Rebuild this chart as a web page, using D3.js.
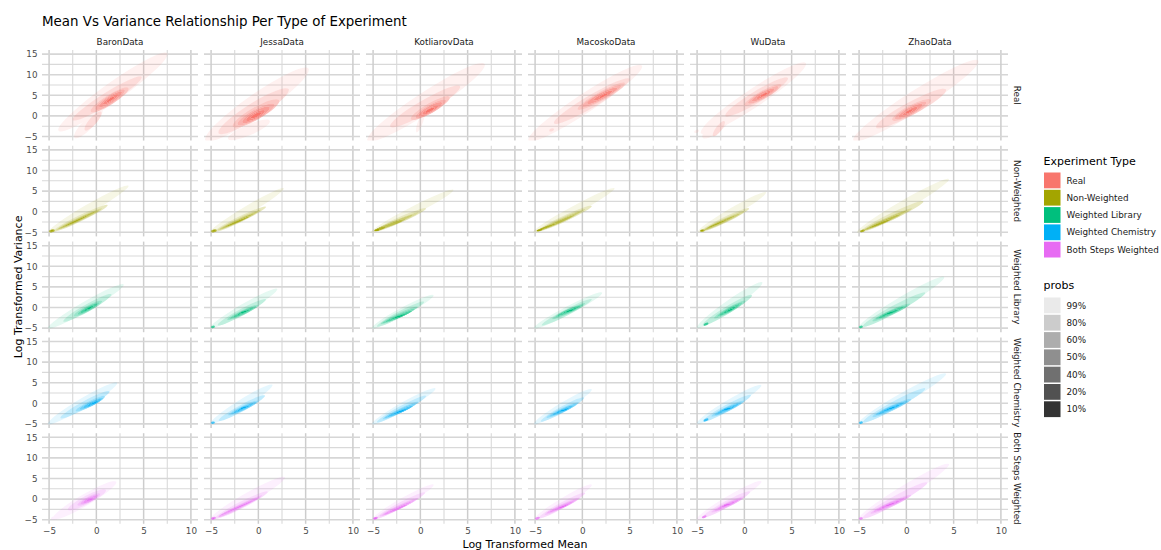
<!DOCTYPE html>
<html>
<head>
<meta charset="utf-8">
<script src="https://cdn.jsdelivr.net/npm/d3@7"></script>
<style>
  body { margin: 0; background: #ffffff; }
  svg { display: block; }
  text { font-family: "DejaVu Sans", sans-serif; }
</style>
</head>
<body>
<svg id="chart" width="1161" height="550"></svg>
<script>
// ---------------------------------------------------------------------------
// Data
// ---------------------------------------------------------------------------
const datasets = ["BaronData", "JessaData", "KotliarovData", "MacoskoData", "WuData", "ZhaoData"];
const experimentTypes = ["Real", "Non-Weighted", "Weighted Library", "Weighted Chemistry", "Both Steps Weighted"];
const typeColors = ["#F8766D", "#A3A500", "#00BF7D", "#00B0F6", "#E76BF3"];
const probLabels = ["99%", "80%", "60%", "50%", "40%", "20%", "10%"];
const probAlpha = [0.1, 0.25, 0.4, 0.55, 0.7, 0.85, 1];
const xTicks = [-5, 0, 5, 10];
const yTicks = [-5, 0, 5, 10, 15];
const xLimits = [-5, 10];
const yLimits = [-5, 15];

// Highest-density regions, one list per dataset, seven nested levels each
// (99% ... 10%). Every region is a set of ellipses given as
// [mean1, variance1, mean2, variance2, halfWidth] in log-transformed units:
// the ellipse tips sit at the two (mean, variance) points.
const realRegions = [
  [ // Baron
    [[-4, -3.6, 7.5, 15.2, 2.3], [-2.3, -5.3, 0.6, 1.5, 1.3]],
    [[-2.5, -1, 4.8, 9.5, 1.4], [-1.2, -3.5, 0.5, 1, 0.9]],
    [[-0.6, 1, 3.4, 6.8, 1.2]],
    [[-0.1, 1.6, 3, 6.3, 1.0]],
    [[0.3, 2.2, 2.7, 5.8, 0.8]],
    [[0.7, 2.8, 2.3, 5.2, 0.55]],
    [[1.1, 3.4, 1.9, 4.6, 0.35]]
  ],
  [ // Jessa
    [[-5.6, -6, 5.3, 11.5, 2.6], [-3.2, -5.6, 1.2, -1.2, 1.3]],
    [[-4.2, -4.2, 3.2, 6.5, 1.9]],
    [[-2.7, -2.6, 2.2, 3.8, 1.5]],
    [[-2.2, -2.1, 1.7, 2.8, 1.2]],
    [[-1.7, -1.6, 1.2, 2.1, 1.0]],
    [[-1.3, -1.1, 0.7, 1.3, 0.7]],
    [[-0.8, -0.5, 0.3, 0.8, 0.45]]
  ],
  [ // Kotliarov
    [[-5.6, -6, 6.8, 12.6, 2.5], [-0.4, -4, 0.4, 1, 0.6]],
    [[-3.2, -2.6, 4.2, 7.2, 1.6]],
    [[-1, -0.8, 3.1, 4.6, 1.2]],
    [[-0.5, -0.4, 2.7, 3.8, 1.0]],
    [[-0.2, 0, 2.3, 3.2, 0.8]],
    [[0.2, 0.4, 1.9, 2.5, 0.55]],
    [[0.5, 0.8, 1.5, 2, 0.35]]
  ],
  [ // Macosko
    [[-5.7, -6, 6.3, 12.2, 2.3]],
    [[-3, -1.8, 5, 9, 1.5], [-3.5, -3.6, -3.0, -3.2, 0.35]],
    [[-0.5, 1.6, 4.5, 8, 1.1]],
    [[0, 2.3, 4.1, 7.4, 0.9]],
    [[0.5, 3, 3.7, 6.8, 0.75]],
    [[1.2, 3.8, 3.2, 6.1, 0.5]],
    [[1.8, 4.4, 2.7, 5.5, 0.3]]
  ],
  [ // Wu
    [[-4.6, -4.2, 6.5, 12.8, 2.2], [-4.4, -5.3, -1.4, 0.3, 1.4], [-5.3, -4, -4.8, -3.5, 0.35]],
    [[-2, 0, 4.6, 9.2, 1.4], [-3.3, -4.9, -2.1, -1.3, 0.7]],
    [[0, 2.6, 3.9, 7.6, 1.0]],
    [[0.4, 3.1, 3.6, 7.1, 0.85]],
    [[0.8, 3.6, 3.2, 6.6, 0.7]],
    [[1.3, 4.2, 2.8, 6, 0.45]],
    [[1.7, 4.7, 2.5, 5.6, 0.3]]
  ],
  [ // Zhao
    [[-5.6, -6, 7.6, 13.4, 2.4]],
    [[-3.2, -2.8, 4.2, 6.4, 1.6]],
    [[-1.5, -1, 2.6, 3.9, 1.2]],
    [[-1.2, -0.7, 2.1, 3.3, 1.0]],
    [[-0.8, -0.3, 1.7, 2.8, 0.8]],
    [[-0.4, 0.2, 1.2, 2.1, 0.5]],
    [[-0.1, 0.6, 0.7, 1.6, 0.3]]
  ]
];

const nonWeightedRegions = [
  [ // Baron
    [[-5.1, -5, 3.4, 6.3, 1.1]],
    [[-4.6, -4.8, 1.2, 1.6, 0.75]],
    [[-4.3, -4.5, 0.6, 0.8, 0.5]],
    [[-4.1, -4.3, 0.3, 0.4, 0.38]],
    [[-3.8, -4, -0.1, 0, 0.28], [-5, -4.8, -4.4, -4.5, 0.35]],
    [[-3.4, -3.6, -0.8, -0.8, 0.2], [-4.95, -4.75, -4.45, -4.55, 0.28]],
    [[-4.9, -4.72, -4.55, -4.6, 0.2]]
  ],
  [ // Jessa
    [[-5.1, -5, 2.7, 5.7, 1.0]],
    [[-4.6, -4.8, 0.8, 1.2, 0.7]],
    [[-4.3, -4.5, 0.3, 0.5, 0.48]],
    [[-4.1, -4.3, 0, 0.1, 0.36]],
    [[-3.9, -4.1, -0.4, -0.4, 0.27], [-5, -4.8, -4.4, -4.5, 0.35]],
    [[-3.6, -3.8, -1, -1.2, 0.2], [-4.95, -4.75, -4.45, -4.55, 0.28]],
    [[-4.9, -4.72, -4.55, -4.6, 0.2]]
  ],
  [ // Kotliarov
    [[-5.2, -5, 3.5, 5.3, 1.0]],
    [[-4.9, -4.8, 0.6, 0.8, 0.7]],
    [[-4.8, -4.7, -0.2, -0.2, 0.5]],
    [[-4.8, -4.6, -0.8, -0.8, 0.4]],
    [[-4.8, -4.5, -1.6, -1.8, 0.33]],
    [[-4.9, -4.6, -3.6, -3.6, 0.3]],
    [[-4.85, -4.55, -4.3, -4.3, 0.25]]
  ],
  [ // Macosko
    [[-5.2, -5, 3.4, 5.7, 1.0]],
    [[-4.8, -4.8, 1, 1.4, 0.72]],
    [[-4.6, -4.6, 0.3, 0.6, 0.5]],
    [[-4.5, -4.5, -0.2, 0, 0.38]],
    [[-4.4, -4.4, -0.8, -0.8, 0.3]],
    [[-4.8, -4.6, -2.8, -2.9, 0.25]],
    [[-4.85, -4.6, -4.2, -4.3, 0.22]]
  ],
  [ // Wu
    [[-4.9, -4.9, 2.3, 4.7, 1.0]],
    [[-4.6, -4.8, 0.5, 0.8, 0.7]],
    [[-4.4, -4.6, 0, 0.1, 0.5]],
    [[-4.3, -4.5, -0.4, -0.4, 0.38]],
    [[-4.2, -4.4, -1, -1, 0.28]],
    [[-3.9, -4, -1.8, -1.9, 0.2], [-4.7, -4.7, -4.2, -4.5, 0.27]],
    [[-4.65, -4.65, -4.3, -4.5, 0.2]]
  ],
  [ // Zhao
    [[-5.2, -5, 4.5, 7.9, 1.2]],
    [[-4.8, -4.8, 1.8, 2.5, 0.85]],
    [[-4.6, -4.6, 0.6, 0.8, 0.55]],
    [[-4.5, -4.5, 0, 0.2, 0.42]],
    [[-4.4, -4.4, -0.6, -0.6, 0.32]],
    [[-4, -4, -1.6, -1.8, 0.22], [-4.9, -4.8, -4.4, -4.5, 0.28]],
    [[-4.85, -4.75, -4.5, -4.6, 0.2]]
  ]
];

const weightedLibraryRegions = [
  [ // Baron
    [[-5.1, -5, 2.9, 5.6, 1.2]],
    [[-3.5, -3.4, 1.6, 3.2, 0.9]],
    [[-2.4, -2.1, 0.6, 1.6, 0.7]],
    [[-2, -1.7, 0.3, 1.2, 0.55]],
    [[-1.7, -1.3, 0.1, 0.9, 0.45]],
    [[-1.3, -0.8, -0.3, 0.4, 0.32]],
    [[-1, -0.4, -0.5, 0.1, 0.22]]
  ],
  [ // Jessa
    [[-5.1, -5, 2, 4.5, 1.1]],
    [[-4.3, -4.3, 0.8, 2, 0.8]],
    [[-3.3, -3, 0, 0.6, 0.6]],
    [[-3, -2.7, -0.2, 0.3, 0.48]],
    [[-2.7, -2.4, -0.5, 0, 0.4], [-5, -4.8, -4.6, -4.6, 0.3]],
    [[-2.2, -1.8, -0.9, -0.5, 0.28]],
    [[-1.9, -1.4, -1.2, -0.8, 0.2]]
  ],
  [ // Kotliarov
    [[-5.1, -5, 1.4, 3, 1.0]],
    [[-4.6, -4.6, 0.4, 1.4, 0.75]],
    [[-4.2, -4, -0.3, 0.2, 0.55]],
    [[-4, -3.8, -0.6, -0.3, 0.45]],
    [[-3.7, -3.5, -0.9, -0.8, 0.37]],
    [[-3.2, -3, -1.4, -1.4, 0.27]],
    [[-2.8, -2.6, -1.8, -1.8, 0.2]]
  ],
  [ // Macosko
    [[-5.1, -5, 2.1, 3.6, 1.0]],
    [[-4.3, -4.3, 1, 2, 0.75]],
    [[-3.2, -2.8, 0.3, 1, 0.57]],
    [[-2.9, -2.4, 0.1, 0.7, 0.46]],
    [[-2.6, -2, -0.2, 0.4, 0.38]],
    [[-2.1, -1.5, -0.6, -0.1, 0.27]],
    [[-1.8, -1.2, -0.9, -0.4, 0.2]]
  ],
  [ // Wu
    [[-5, -4.9, 1.9, 6.1, 1.2]],
    [[-4.4, -4.3, 0.8, 3, 0.9]],
    [[-3.2, -2.6, 0.1, 1.6, 0.65]],
    [[-2.9, -2.2, -0.2, 1.2, 0.52]],
    [[-2.6, -1.9, -0.5, 0.8, 0.42], [-4.3, -4.3, -3.8, -3.8, 0.3]],
    [[-2.2, -1.4, -0.9, 0.2, 0.3]],
    [[-1.9, -1, -1.2, -0.3, 0.2]]
  ],
  [ // Zhao
    [[-5.1, -5, 4, 7.4, 1.3]],
    [[-4.6, -4.6, 2, 3.6, 0.95]],
    [[-3.6, -3.3, 0.4, 0.9, 0.65]],
    [[-3.3, -2.9, 0.1, 0.5, 0.52]],
    [[-3, -2.6, -0.3, 0.1, 0.43], [-5, -4.8, -4.6, -4.6, 0.3]],
    [[-2.5, -2, -0.8, -0.5, 0.3]],
    [[-2.1, -1.6, -1.2, -0.9, 0.2]]
  ]
];

const weightedChemistryRegions = [
  [ // Baron
    [[-5.1, -5, 2.2, 5, 1.2]],
    [[-3.8, -3.6, 1.4, 2.9, 0.9]],
    [[-2.2, -1.9, 0.9, 1.7, 0.7]],
    [[-1.8, -1.5, 0.7, 1.3, 0.56]],
    [[-1.4, -1.1, 0.5, 1, 0.46]],
    [[-0.9, -0.6, 0.2, 0.6, 0.32]],
    [[-0.6, -0.3, 0, 0.3, 0.22]]
  ],
  [ // Jessa
    [[-5.1, -5, 1.5, 4.5, 1.1]],
    [[-4.2, -4.2, 0.7, 1.9, 0.8]],
    [[-3.2, -2.9, 0, 0.6, 0.6]],
    [[-2.9, -2.6, -0.2, 0.3, 0.48]],
    [[-2.6, -2.3, -0.5, 0, 0.4], [-5, -4.8, -4.6, -4.6, 0.28]],
    [[-2.2, -1.8, -0.9, -0.5, 0.28]],
    [[-1.9, -1.4, -1.2, -0.8, 0.2]]
  ],
  [ // Kotliarov
    [[-5.1, -5, 1.6, 3.6, 1.0]],
    [[-4.6, -4.6, 0.6, 1.8, 0.75]],
    [[-4, -3.9, -0.2, 0.4, 0.55]],
    [[-3.8, -3.6, -0.5, -0.1, 0.45]],
    [[-3.5, -3.3, -0.8, -0.6, 0.37]],
    [[-3, -2.8, -1.3, -1.2, 0.27]],
    [[-2.6, -2.4, -1.7, -1.6, 0.2]]
  ],
  [ // Macosko
    [[-5.1, -5, 1, 3.4, 1.0]],
    [[-4.4, -4.4, 0.2, 1.4, 0.75]],
    [[-3.8, -3.5, -0.4, 0.2, 0.55]],
    [[-3.5, -3.2, -0.6, -0.1, 0.45]],
    [[-3.2, -2.9, -0.9, -0.5, 0.37]],
    [[-2.8, -2.4, -1.3, -1, 0.27]],
    [[-2.4, -2, -1.6, -1.4, 0.2]]
  ],
  [ // Wu
    [[-5, -4.9, 1.8, 4.4, 1.1]],
    [[-4.4, -4.4, 0.7, 2, 0.82]],
    [[-3.5, -3.2, 0, 0.6, 0.6]],
    [[-3.2, -2.9, -0.3, 0.2, 0.48]],
    [[-2.9, -2.5, -0.6, -0.2, 0.4], [-4.3, -4.3, -3.8, -3.8, 0.3]],
    [[-2.5, -2, -1, -0.7, 0.28]],
    [[-2.2, -1.6, -1.3, -1.1, 0.2]]
  ],
  [ // Zhao
    [[-5.1, -5, 4.2, 7.2, 1.3]],
    [[-4.6, -4.6, 2, 3.6, 0.95]],
    [[-3.6, -3.3, 0.5, 1, 0.65]],
    [[-3.3, -2.9, 0.2, 0.6, 0.52]],
    [[-3, -2.6, -0.2, 0.2, 0.43], [-5, -4.8, -4.6, -4.6, 0.3]],
    [[-2.5, -2, -0.7, -0.4, 0.3]],
    [[-2.1, -1.6, -1.1, -0.8, 0.2]]
  ]
];

const bothStepsRegions = [
  [ // Baron
    [[-4.6, -4.8, 2.1, 4.2, 1.4], [-4.8, -4.8, -4.3, -4.5, 0.35]],
    [[-3, -2.6, 1, 2.2, 1.0]],
    [[-2, -1.5, 0.4, 1.3, 0.7]],
    [[-1.7, -1.2, 0.2, 1, 0.58]],
    [[-1.4, -0.9, 0, 0.7, 0.47]],
    [[-1, -0.5, -0.3, 0.3, 0.33]],
    [[-0.8, -0.3, -0.4, 0.1, 0.22]]
  ],
  [ // Jessa
    [[-5.1, -5, 2.8, 5.3, 1.3]],
    [[-4.6, -4.7, 1, 1.8, 0.8]],
    [[-4.3, -4.4, 0.4, 0.9, 0.5]],
    [[-4.2, -4.3, 0.2, 0.6, 0.4]],
    [[-4.1, -4.1, 0, 0.3, 0.3], [-5, -4.8, -4.5, -4.5, 0.33]],
    [[-3.5, -3.4, -0.5, -0.3, 0.2], [-4.95, -4.75, -4.55, -4.55, 0.26]],
    [[-4.9, -4.72, -4.6, -4.6, 0.2]]
  ],
  [ // Kotliarov
    [[-5.1, -5, 1.4, 3.5, 1.0]],
    [[-4.7, -4.7, 0.5, 1.6, 0.72]],
    [[-4.3, -4.2, -0.2, 0.3, 0.5]],
    [[-4.1, -4, -0.5, -0.1, 0.4]],
    [[-3.9, -3.8, -0.9, -0.6, 0.32], [-5, -4.8, -4.5, -4.5, 0.3]],
    [[-3.4, -3.3, -1.4, -1.3, 0.22]],
    [[-4.9, -4.7, -4.6, -4.6, 0.2]]
  ],
  [ // Macosko
    [[-5.1, -5, 1, 3.5, 1.0]],
    [[-4.6, -4.6, 0.3, 1.5, 0.72]],
    [[-4, -3.8, -0.3, 0.3, 0.52]],
    [[-3.8, -3.5, -0.6, -0.1, 0.42]],
    [[-3.5, -3.2, -0.9, -0.5, 0.34], [-5, -4.8, -4.5, -4.5, 0.3]],
    [[-3, -2.7, -1.3, -1, 0.25]],
    [[-2.6, -2.3, -1.6, -1.4, 0.18]]
  ],
  [ // Wu
    [[-5, -4.9, 1.8, 4.3, 1.1]],
    [[-4.4, -4.4, 0.6, 1.8, 0.8]],
    [[-3.5, -3.2, 0, 0.6, 0.58]],
    [[-3.2, -2.9, -0.3, 0.2, 0.47]],
    [[-2.9, -2.5, -0.6, -0.2, 0.38], [-4.5, -4.5, -4, -4.1, 0.3]],
    [[-2.5, -2, -1, -0.7, 0.27]],
    [[-2.2, -1.6, -1.3, -1.1, 0.2]]
  ],
  [ // Zhao
    [[-5.1, -5, 4.5, 8.5, 1.4]],
    [[-4.6, -4.6, 2.2, 4, 1.0]],
    [[-3.8, -3.5, 0.5, 1, 0.65]],
    [[-3.5, -3.1, 0.2, 0.6, 0.52]],
    [[-3.2, -2.8, -0.2, 0.2, 0.43], [-5, -4.8, -4.6, -4.6, 0.3]],
    [[-2.7, -2.2, -0.7, -0.4, 0.3]],
    [[-2.3, -1.8, -1.1, -0.8, 0.2]]
  ]
];

const regionsByType = [realRegions, nonWeightedRegions, weightedLibraryRegions,
                       weightedChemistryRegions, bothStepsRegions];

// ---------------------------------------------------------------------------
// Layout
// ---------------------------------------------------------------------------
const svg = d3.select("#chart");
const panel = { left: 42, top: 50, width: 156, height: 90.6, colStep: 162, rowStep: 95.8 };

// ggplot-style 5% expansion of the continuous limits
const expand = (lim) => { const d = (lim[1] - lim[0]) * 0.05; return [lim[0] - d, lim[1] + d]; };
const x = d3.scaleLinear().domain(expand(xLimits)).range([0, panel.width]);
const y = d3.scaleLinear().domain(expand(yLimits)).range([panel.height, 0]);

const midpoints = (t) => t.slice(1).map((v, i) => (v + t[i]) / 2);
const xMinor = midpoints(xTicks);
const yMinor = midpoints(yTicks);

const defs = svg.append("defs");
defs.append("clipPath").attr("id", "panel-clip")
  .append("rect").attr("width", panel.width).attr("height", panel.height);

// Title
svg.append("text")
  .attr("x", 42).attr("y", 25.5)
  .attr("font-size", 13.4).attr("fill", "#000")
  .text("Mean Vs Variance Relationship Per Type of Experiment");

// Places an ellipse whose tips are the two (mean, variance) points
function placeEllipse(sel) {
  sel.each(function (d) {
    const x1 = x(d[0]), y1 = y(d[1]), x2 = x(d[2]), y2 = y(d[3]);
    const cx = (x1 + x2) / 2, cy = (y1 + y2) / 2;
    const rx = Math.max(Math.hypot(x2 - x1, y2 - y1) / 2, 0.6);
    const ry = Math.max(Math.abs(y(0) - y(d[4])), 0.6);
    const ang = Math.atan2(y2 - y1, x2 - x1) * 180 / Math.PI;
    d3.select(this)
      .attr("cx", cx).attr("cy", cy).attr("rx", rx).attr("ry", ry)
      .attr("transform", `rotate(${ang},${cx},${cy})`);
  });
}

experimentTypes.forEach((type, r) => {
  datasets.forEach((ds, c) => {
    const px = panel.left + c * panel.colStep;
    const py = panel.top + r * panel.rowStep;
    const g = svg.append("g").attr("transform", `translate(${px},${py})`);

    // grid
    const grid = g.append("g");
    grid.selectAll(".gxm").data(xMinor).join("line")
      .attr("x1", d => x(d)).attr("x2", d => x(d)).attr("y1", 0).attr("y2", panel.height)
      .attr("stroke", "#d9d9d9").attr("stroke-width", 1.1);
    grid.selectAll(".gym").data(yMinor).join("line")
      .attr("y1", d => y(d)).attr("y2", d => y(d)).attr("x1", 0).attr("x2", panel.width)
      .attr("stroke", "#d9d9d9").attr("stroke-width", 1.1);
    grid.selectAll(".gx").data(xTicks).join("line")
      .attr("x1", d => x(d)).attr("x2", d => x(d)).attr("y1", 0).attr("y2", panel.height)
      .attr("stroke", "#cdcdcd").attr("stroke-width", 1.5);
    grid.selectAll(".gy").data(yTicks).join("line")
      .attr("y1", d => y(d)).attr("y2", d => y(d)).attr("x1", 0).attr("x2", panel.width)
      .attr("stroke", "#d6d6d6").attr("stroke-width", 1.6);

    // density regions: each band = its level minus the next inner level
    const levels = regionsByType[r][c];
    const dens = g.append("g").attr("clip-path", "url(#panel-clip)");
    levels.forEach((shapes, li) => {
      const maskId = `m-${r}-${c}-${li}`;
      const mask = defs.append("mask").attr("id", maskId)
        .attr("maskUnits", "userSpaceOnUse")
        .attr("x", -10).attr("y", -10).attr("width", panel.width + 20).attr("height", panel.height + 20);
      mask.append("rect").attr("x", -10).attr("y", -10)
        .attr("width", panel.width + 20).attr("height", panel.height + 20).attr("fill", "#fff");
      if (li + 1 < levels.length) {
        mask.selectAll("ellipse").data(levels[li + 1]).join("ellipse")
          .attr("fill", "#000").call(placeEllipse);
      }
      dens.append("g")
        .attr("mask", `url(#${maskId})`)
        .attr("opacity", probAlpha[li])
        .selectAll("ellipse").data(shapes).join("ellipse")
        .attr("fill", typeColors[r]).call(placeEllipse);
    });

    // strip labels
    if (r === 0) {
      svg.append("text")
        .attr("x", px + panel.width / 2).attr("y", panel.top - 8)
        .attr("text-anchor", "middle").attr("dominant-baseline", "central")
        .attr("font-size", 8.8).attr("fill", "#1a1a1a").text(ds);
    }
    if (c === datasets.length - 1) {
      svg.append("text")
        .attr("transform", `translate(${px + panel.width + 9},${py + panel.height / 2}) rotate(90)`)
        .attr("text-anchor", "middle").attr("dominant-baseline", "central")
        .attr("font-size", 8.8).attr("fill", "#1a1a1a").text(type);
    }

    // axes
    if (c === 0) {
      const ax = g.append("g").call(d3.axisLeft(y).tickValues(yTicks).tickSize(0).tickPadding(4.5));
      ax.select(".domain").remove();
      ax.selectAll("text").attr("font-size", 8.8).attr("fill", "#4d4d4d")
        .attr("font-family", "DejaVu Sans, sans-serif");
    }
    if (r === experimentTypes.length - 1) {
      const ax = g.append("g").attr("transform", `translate(0,${panel.height})`)
        .call(d3.axisBottom(x).tickValues(xTicks).tickSize(0).tickPadding(4));
      ax.select(".domain").remove();
      ax.selectAll("text").attr("font-size", 8.8).attr("fill", "#4d4d4d")
        .attr("font-family", "DejaVu Sans, sans-serif");
    }
  });
});

// axis titles
const gridRight = panel.left + (datasets.length - 1) * panel.colStep + panel.width;
const gridBottom = panel.top + (experimentTypes.length - 1) * panel.rowStep + panel.height;
svg.append("text")
  .attr("x", (panel.left + gridRight) / 2).attr("y", 544.5)
  .attr("text-anchor", "middle").attr("dominant-baseline", "central")
  .attr("font-size", 11).attr("fill", "#000").text("Log Transformed Mean");
svg.append("text")
  .attr("transform", `translate(18,${(panel.top + gridBottom) / 2}) rotate(-90)`)
  .attr("text-anchor", "middle").attr("dominant-baseline", "central")
  .attr("font-size", 11).attr("fill", "#000").text("Log Transformed Variance");

// legends
const legX = 1043.5;
const keyStep = 17.3;
const leg1 = svg.append("g");
leg1.append("text").attr("x", legX).attr("y", 165).attr("font-size", 11).attr("fill", "#000")
  .text("Experiment Type");
experimentTypes.forEach((t, i) => {
  const ky = 172.5 + i * keyStep;
  leg1.append("rect").attr("x", legX + 0.5).attr("y", ky).attr("width", 16.5).attr("height", 15.8)
    .attr("fill", typeColors[i]);
  leg1.append("text").attr("x", legX + 23).attr("y", ky + 8).attr("dominant-baseline", "central")
    .attr("font-size", 8.8).attr("fill", "#1a1a1a").text(t);
});
const leg2 = svg.append("g");
leg2.append("text").attr("x", legX).attr("y", 289).attr("font-size", 11).attr("fill", "#000")
  .text("probs");
probLabels.forEach((p, i) => {
  const ky = 297.5 + i * keyStep;
  leg2.append("rect").attr("x", legX + 0.5).attr("y", ky).attr("width", 16.5).attr("height", 15.8)
    .attr("fill", "#333333").attr("fill-opacity", probAlpha[i]);
  leg2.append("text").attr("x", legX + 23).attr("y", ky + 8).attr("dominant-baseline", "central")
    .attr("font-size", 8.8).attr("fill", "#1a1a1a").text(p);
});
</script>
</body>
</html>
